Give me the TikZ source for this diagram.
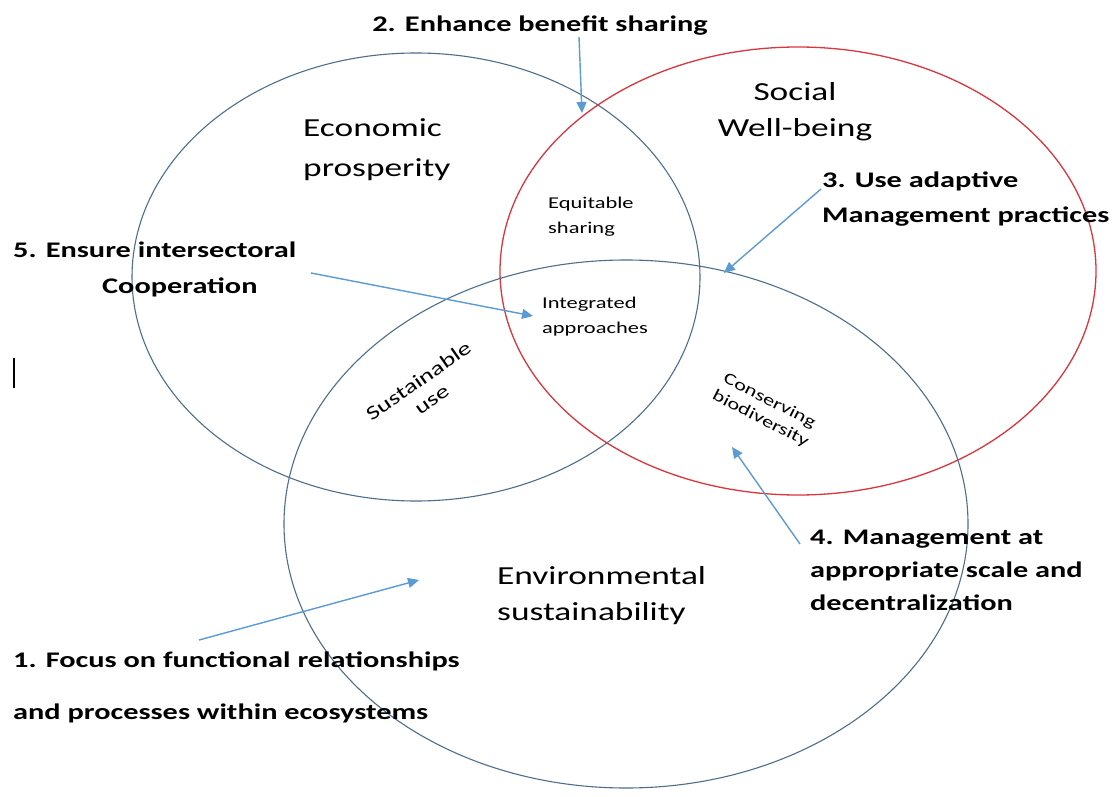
\documentclass[tikz,border=0pt]{standalone}
\usepackage{fontspec}
\setmainfont{Carlito}[FakeStretch=1.36]
\usetikzlibrary{arrows.meta}
\definecolor{ringblue}{HTML}{4F6E8C}
\definecolor{ringred}{HTML}{D9363E}
\definecolor{pointer}{HTML}{5B9BD5}
\begin{document}
\begin{tikzpicture}[x=1pt,y=-1pt,
  ring/.style={draw=ringblue,line width=1.1pt},
  redring/.style={draw=ringred,line width=1.3pt},
  pointerarrow/.style={draw=pointer,line width=1.4pt,-{Triangle[length=11pt,width=10pt]}},
  tip/.style={font=\bfseries\fontsize{22.3}{26}\selectfont,inner sep=0pt},
  big/.style={font=\fontsize{26}{30}\selectfont,inner sep=0pt},
  small/.style={font=\fontsize{16.5}{20}\selectfont,inner sep=0pt}]
\useasboundingbox[fill=white] (0,0) rectangle (1119,797);

% the three overlapping domains
\draw[ring] (416,277) ellipse [x radius=284, y radius=224];
\draw[redring] (798,271) ellipse [x radius=298, y radius=224];
\draw[ring] (626,524) ellipse [x radius=342, y radius=264];

% domain titles
\node[big,anchor=base west] (eco1) at (303,137) {Economic};
\node[big,anchor=base west] (eco2) at (303,176) {prosperity};
\node[big,anchor=base] (soc1) at (795,101) {Social};
\node[big,anchor=base] (soc2) at (795,137) {Well-being};
\node[big,anchor=base west] (env1) at (497,584) {Environmental};
\node[big,anchor=base west] (env2) at (497,620) {sustainability};

% overlap labels
\node[small,anchor=base west] (eq1) at (548,208) {Equitable};
\node[small,anchor=base west] (eq2) at (548,233) {sharing};
\node[small,anchor=base west] (ia1) at (542,308) {Integrated};
\node[small,anchor=base west] (ia2) at (542,333) {approaches};
\node[small,align=center,rotate=35,font=\fontsize{19.5}{23}\selectfont] (sus) at (425,390) {Sustainable\\use};
\node[small,align=center,rotate=-27] (cons) at (765,410) {Conserving\\biodiversity};

% numbered principles
\node[tip,anchor=base] (p2) at (540,32) {2. Enhance benefit sharing};
\node[tip,anchor=base west] (p3a) at (822,187) {3. Use adaptive};
\node[tip,anchor=base west] (p3b) at (822,222) {Management practices};
\node[tip,anchor=base west] (p5a) at (13,257) {5. Ensure intersectoral};
\node[tip,anchor=base west] (p5b) at (102,293) {Cooperation};
\node[tip,anchor=base west] (p4a) at (810,544) {4. Management at};
\node[tip,anchor=base west] (p4b) at (810,577) {appropriate scale and};
\node[tip,anchor=base west] (p4c) at (810,610) {decentralization};
\node[tip,anchor=base west] (p1a) at (13,667) {1. Focus on functional relationships};
\node[tip,anchor=base west] (p1b) at (13,719) {and processes within ecosystems};

% stray text cursor at the left margin
\node[inner sep=0pt,minimum width=2.6pt,minimum height=30pt,fill=black] (bar) at (14,373) {};

% arrow targets and tails
\coordinate (t2) at (582,113);
\coordinate (t3) at (724,273);
\coordinate (t5) at (533,316);
\coordinate (t4) at (732,447);
\coordinate (t1) at (419,580);
\coordinate (s2) at (579,37);
\coordinate (s3) at (821,189);
\coordinate (s5) at (311,273);
\coordinate (s4) at (800,544);
\coordinate (s1) at (199,640);

\draw[pointerarrow] (s2) -- (t2);
\draw[pointerarrow] (s3) -- (t3);
\draw[pointerarrow] (s5) -- (t5);
\draw[pointerarrow] (s4) -- (t4);
\draw[pointerarrow] (s1) -- (t1);
\end{tikzpicture}
\end{document}
